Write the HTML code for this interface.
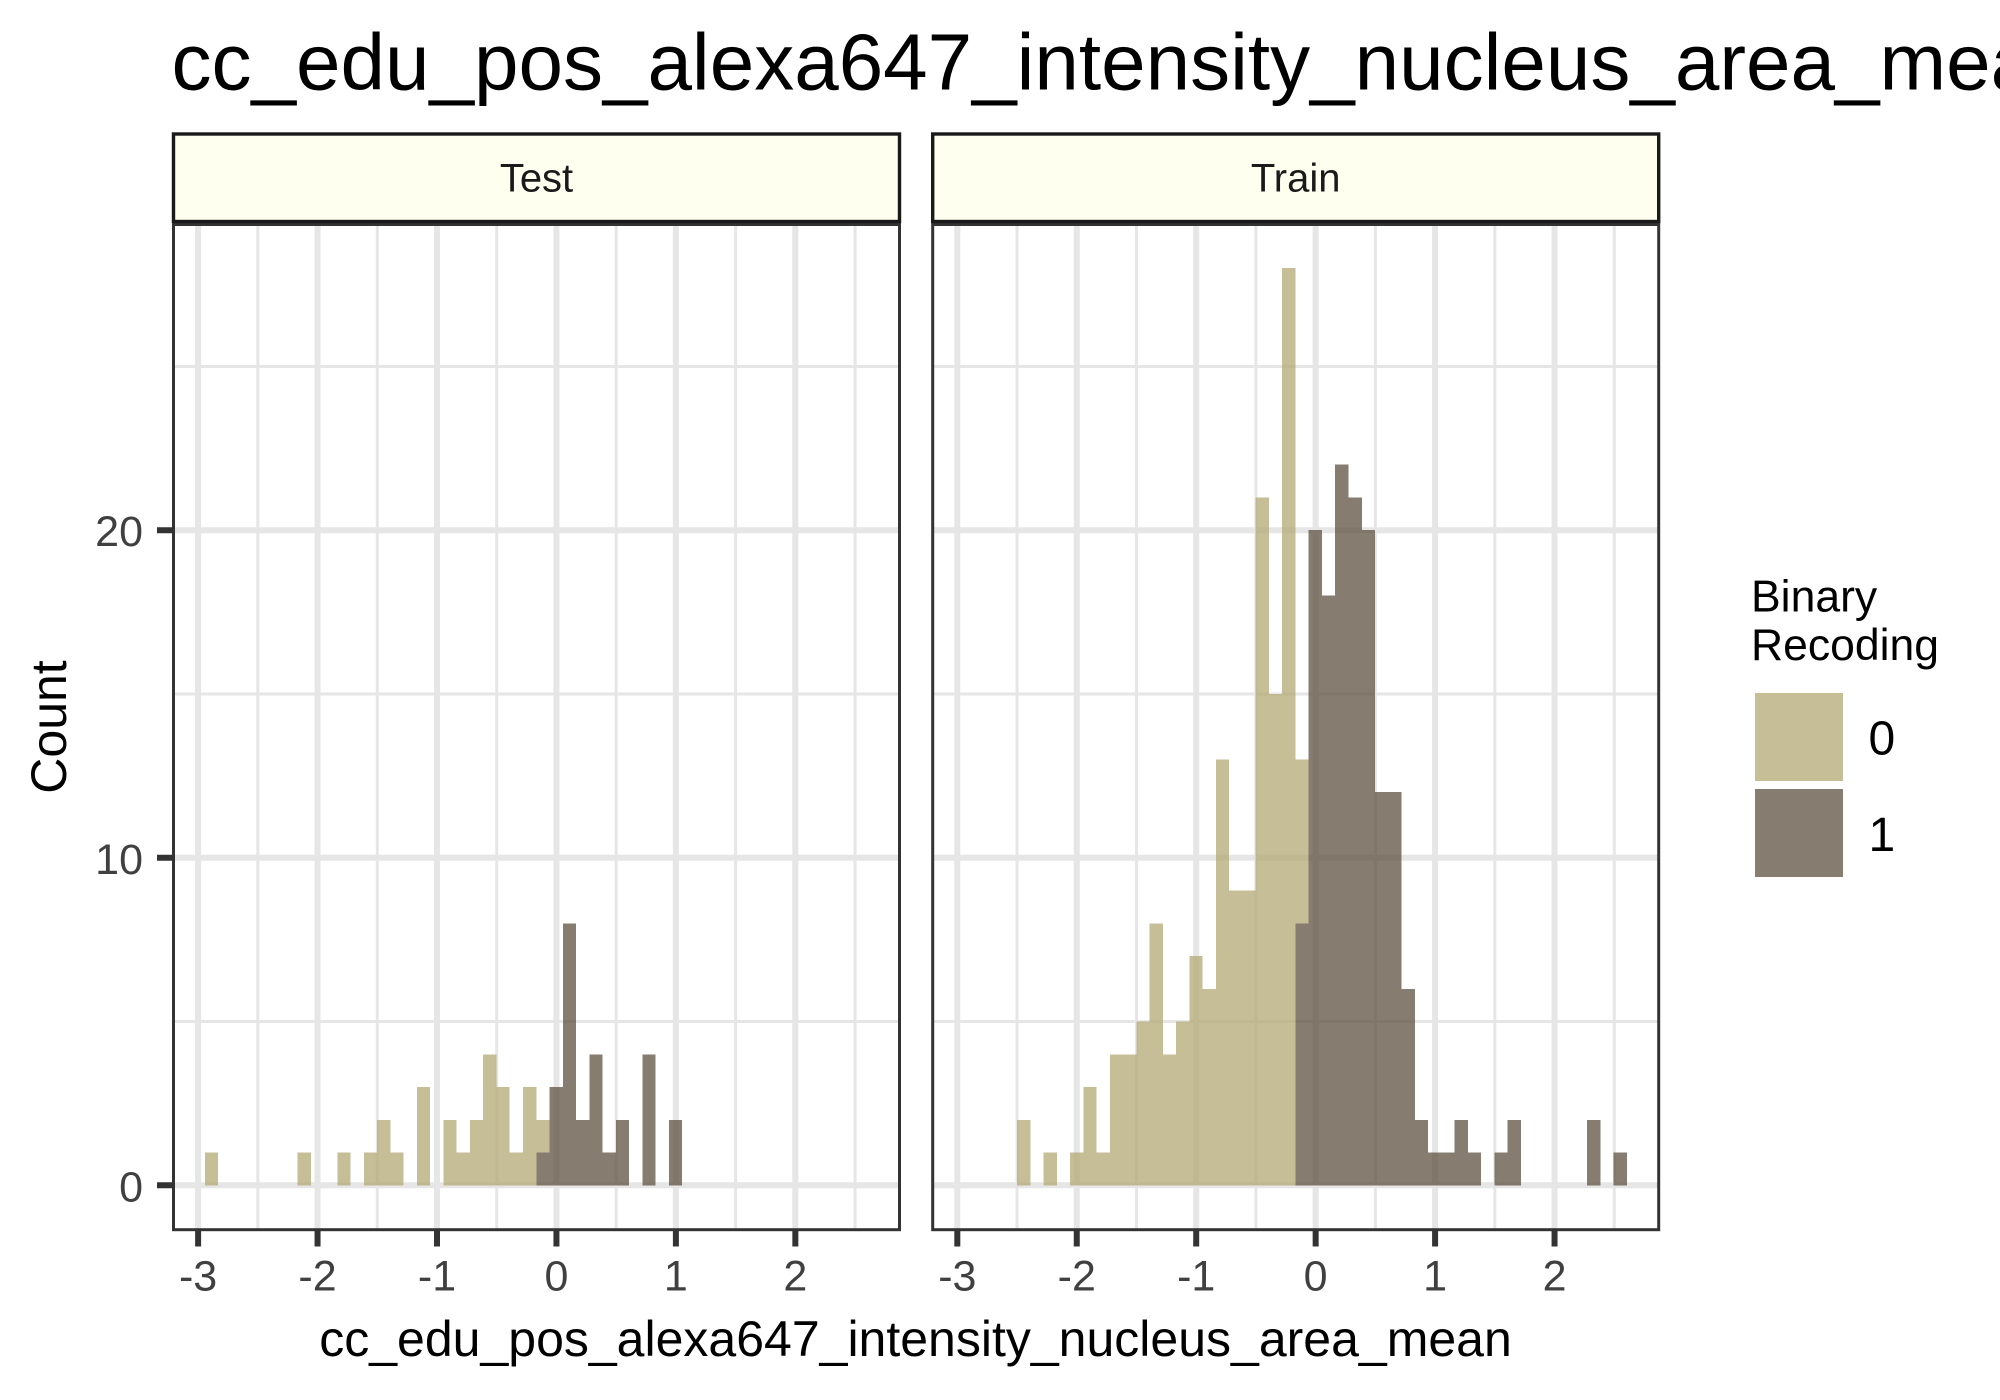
<!DOCTYPE html>
<html lang="en">
<head>
<meta charset="utf-8">
<title>cc_edu_pos_alexa647_intensity_nucleus_area_mean</title>
<style>
  html, body { margin: 0; padding: 0; background: #ffffff; }
  svg { display: block; }
  text { font-family: "Liberation Sans", Arial, sans-serif; }
</style>
</head>
<body>
<svg id="chart" xmlns="http://www.w3.org/2000/svg" width="2000" height="1400" viewBox="0 0 2000 1400">
  <rect x="0" y="0" width="2000" height="1400" fill="#ffffff"/>
  <text x="171.5" y="89.5" font-size="80" fill="#000000">cc_edu_pos_alexa647_intensity_nucleus_area_mean</text>
  <g id="panels"></g>
  <text x="915.5" y="1356" font-size="50" text-anchor="middle" fill="#000000">cc_edu_pos_alexa647_intensity_nucleus_area_mean</text>
  <text transform="translate(66 727) rotate(-90)" font-size="50" text-anchor="middle" fill="#000000">Count</text>
  <g>
    <text x="1751" y="611.5" font-size="44.5" fill="#000000">Binary</text>
    <text x="1751" y="659.8" font-size="44.5" fill="#000000">Recoding</text>
    <rect x="1755" y="693" width="88" height="88" fill="#B3A874" fill-opacity="0.75"/>
    <rect x="1755" y="789" width="88" height="88" fill="#5E5040" fill-opacity="0.75"/>
    <text x="1868.5" y="754.5" font-size="48" fill="#000000">0</text>
    <text x="1868.5" y="851" font-size="48" fill="#000000">1</text>
  </g>
</svg>
<script>
// Histogram data
const binLeft = [
  -2.944,-2.833,-2.722,-2.611,-2.5,-2.389,-2.278,-2.167,-2.056,-1.945,
  -1.834,-1.723,-1.612,-1.501,-1.39,-1.279,-1.168,-1.057,-0.946,-0.835,
  -0.724,-0.613,-0.502,-0.391,-0.28,-0.169,-0.058,0.053,0.164,0.275,
  0.386,0.497,0.608,0.719,0.83,0.941,1.052,1.163,1.274,1.385,
  1.496,1.607,1.718,1.829,1.94,2.051,2.162,2.273,2.384,2.495
];
const binWidth = 0.111;

const testClass0 = [
  1,0,0,0,0,0,0,1,0,0,
  1,0,1,2,1,0,3,0,2,1,
  2,4,3,1,3,1,0,0,0,0,
  0,0,0,0,0,0,0,0,0,0,
  0,0,0,0,0,0,0,0,0,0
];
const testClass1 = [
  0,0,0,0,0,0,0,0,0,0,
  0,0,0,0,0,0,0,0,0,0,
  0,0,0,0,0,1,3,8,2,4,
  1,2,0,4,0,2,0,0,0,0,
  0,0,0,0,0,0,0,0,0,0
];
const trainClass0 = [
  0,0,0,0,2,0,1,0,1,3,
  1,4,4,5,8,4,5,7,6,13,
  9,9,21,15,28,5,0,0,0,0,
  0,0,0,0,0,0,0,0,0,0,
  0,0,0,0,0,0,0,0,0,0
];
const trainClass1 = [
  0,0,0,0,0,0,0,0,0,0,
  0,0,0,0,0,0,0,0,0,0,
  0,0,0,0,0,8,20,18,22,21,
  20,12,12,6,2,1,1,2,1,0,
  1,2,0,0,0,0,0,2,0,1
];

const xMajorTicks = [-3,-2,-1,0,1,2];
const xMinorTicks = [-2.5,-1.5,-0.5,0.5,1.5,2.5];
const yMajorTicks = [0,10,20];
const yMinorTicks = [5,15,25];
const panelNames = ["Test","Train"];

// Axis domains and layout
const xDomain = [-3.206, 2.872];
const yDomain = [-1.356, 29.38];
const panelTop = 223;
const panelBottom = 1229.7;
const panelBorderTop = 224.5;
const panelWidth = 726;
const panelLefts = { Test: 173.5, Train: 932.7 };
const COLOR_0 = "#B3A874";
const COLOR_1 = "#5E5040";
const GRID = "#E6E6E6";
const SVG_NS = "http://www.w3.org/2000/svg";
const panelsRoot = document.getElementById("panels");

function xScale(panel, v) {
  return panelLefts[panel] + (v - xDomain[0]) / (xDomain[1] - xDomain[0]) * panelWidth;
}
function yScale(v) {
  return panelBottom - (v - yDomain[0]) / (yDomain[1] - yDomain[0]) * (panelBottom - panelTop);
}
function make(tag, attrs, parent) {
  const el = document.createElementNS(SVG_NS, tag);
  for (const k in attrs) el.setAttribute(k, attrs[k]);
  parent.appendChild(el);
  return el;
}

function drawBars(group, panel, counts, base, fill, label) {
  counts.forEach(function (n, i) {
    if (n <= 0) return;
    const x0 = xScale(panel, binLeft[i]);
    const x1 = xScale(panel, binLeft[i] + binWidth);
    const y0 = yScale(base[i]);
    const y1 = yScale(base[i] + n);
    const r = make("rect", { x: x0, y: y1, width: x1 - x0, height: y0 - y1, fill: fill, "fill-opacity": 0.75, "shape-rendering": "crispEdges" }, group);
    
    
  });
}

function drawPanel(panel, class0, class1) {
  const left = panelLefts[panel];
  const right = left + panelWidth;
  const g = make("g", {}, panelsRoot);
  
  

  // grid
  yMinorTicks.forEach(function (t) {
    const l = make("line", { x1: left, x2: right, y1: yScale(t), y2: yScale(t), stroke: GRID, "stroke-width": 3 }, g);
    
    
  });
  xMinorTicks.forEach(function (t) {
    const l = make("line", { x1: xScale(panel, t), x2: xScale(panel, t), y1: panelTop, y2: panelBottom, stroke: GRID, "stroke-width": 3 }, g);
    
    
  });
  yMajorTicks.forEach(function (t) {
    const l = make("line", { x1: left, x2: right, y1: yScale(t), y2: yScale(t), stroke: GRID, "stroke-width": 6 }, g);
    
    
  });
  xMajorTicks.forEach(function (t) {
    const l = make("line", { x1: xScale(panel, t), x2: xScale(panel, t), y1: panelTop, y2: panelBottom, stroke: GRID, "stroke-width": 6 }, g);
    
    
  });

  // stacked bars: class 1 on the bottom, class 0 above it
  const zeros = class1.map(function () { return 0; });
  drawBars(g, panel, class1, zeros, COLOR_1, 'class-1');
  drawBars(g, panel, class0, class1, COLOR_0, 'class-0');

  // panel border
  const border = make("rect", { x: left, y: panelBorderTop, width: panelWidth, height: panelBottom - panelBorderTop, fill: "none", stroke: "#333333", "stroke-width": 3 }, g);
  
  

  // strip
  const strip = make("rect", { x: left, y: 134, width: panelWidth, height: 87.5, fill: "#FFFFF0", stroke: "#1A1A1A", "stroke-width": 3.4 }, g);
  
  
  const stripText = make("text", { x: left + panelWidth / 2, y: 191.7, "font-size": 40, "text-anchor": "middle", fill: "#1A1A1A" }, g);
  stripText.textContent = panel;
  
  

  // x ticks and labels
  xMajorTicks.forEach(function (t) {
    const x = xScale(panel, t);
    const tick = make("line", { x1: x, x2: x, y1: panelBottom, y2: 1246.5, stroke: "#333333", "stroke-width": 6 }, g);
    
    
    const label = make("text", { x: x, y: 1290.7, "font-size": 43, "text-anchor": "middle", fill: "#404040" }, g);
    label.textContent = String(t);
    
    
  });

  // y ticks and labels only on the first panel
  if (panel === panelNames[0]) {
    yMajorTicks.forEach(function (t) {
      const y = yScale(t);
      const tick = make("line", { x1: 157, x2: left, y1: y, y2: y, stroke: "#333333", "stroke-width": 6 }, g);
      
      
      const label = make("text", { x: 143, y: y + 16, "font-size": 43, "text-anchor": "end", fill: "#404040" }, g);
      label.textContent = String(t);
      
      
    });
  }
}

drawPanel(panelNames[0], testClass0, testClass1);
drawPanel(panelNames[1], trainClass0, trainClass1);
</script>
</body>
</html>
